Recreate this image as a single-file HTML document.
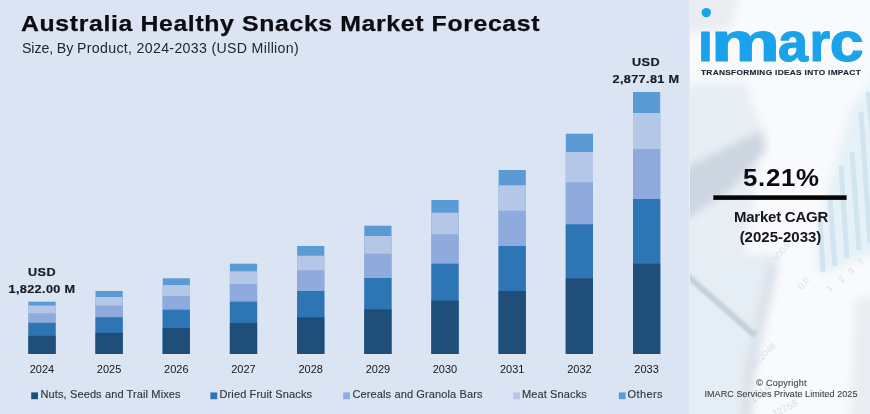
<!DOCTYPE html>
<html lang="en"><head><meta charset="utf-8"><title>Australia Healthy Snacks Market Forecast</title>
<style>
html,body{margin:0;padding:0;}
body{width:870px;height:414px;overflow:hidden;background:#dae3f3;font-family:"Liberation Sans",sans-serif;}
#root{position:relative;width:870px;height:414px;overflow:hidden;background:#dbe4f3;}
.abs{position:absolute;white-space:nowrap;}
#title{left:20.5px;top:10.1px;font-size:22.6px;font-weight:bold;color:#0b0b12;letter-spacing:0.57px;transform:scaleX(1.099);transform-origin:0 0;-webkit-text-stroke:0.25px #0b0b12;line-height:28px;}
#sub{left:22px;top:40.2px;font-size:14px;color:#24262e;line-height:16px;letter-spacing:0.31px;transform:scaleX(1.0125);transform-origin:0 0;}
.yr{position:absolute;top:362px;width:40px;text-align:center;font-size:11px;line-height:14px;color:#15161c;}
.lg{position:absolute;top:387.3px;letter-spacing:0.12px;font-size:11px;line-height:14px;color:#33363d;white-space:nowrap;-webkit-text-stroke:0.15px #33363d;}
.val{position:absolute;text-align:center;font-weight:bold;font-size:11.5px;letter-spacing:0.34px;transform:scaleX(1.1);line-height:17px;color:#171a26;width:90px;-webkit-text-stroke:0.2px #171a26;white-space:nowrap;}
#panel{position:absolute;left:690px;top:0;width:180px;height:414px;background:#f6f8fb;overflow:hidden;}
#cagr{left:743.3px;top:163.5px;font-size:23.5px;font-weight:bold;color:#0c0c10;line-height:28px;letter-spacing:0.6px;transform:scaleX(1.1);transform-origin:0 0;}
.mk{left:690px;width:180px;text-align:center;font-size:15px;font-weight:bold;color:#15151a;line-height:20px;}
.cp{left:690px;width:180px;text-align:center;font-size:9px;color:#3c3f45;line-height:12px;-webkit-text-stroke:0.1px #3c3f45;}
#tag{left:700.5px;top:68px;font-size:8px;font-weight:bold;color:#1d2430;line-height:10px;letter-spacing:0.3px;transform:scaleX(1.036);transform-origin:0 0;-webkit-text-stroke:0.15px #1d2430;}
</style></head><body>
<div id="root">
<svg class="abs" style="left:0;top:0" width="690" height="414" viewBox="0 0 690 414">
<line x1="8" y1="354.5" x2="672" y2="354.5" stroke="#e2e6ee" stroke-width="1"/>
<rect x="28.4" y="301.7" width="27.2" height="52.3" fill="#5b9bd5"/>
<rect x="28.4" y="305.5" width="27.2" height="48.5" fill="#b4c7e7"/>
<rect x="28.4" y="313.3" width="27.2" height="40.7" fill="#8faadc"/>
<rect x="28.4" y="322.8" width="27.2" height="31.2" fill="#2e75b6"/>
<rect x="28.4" y="335.8" width="27.2" height="18.2" fill="#1f4e79"/>
<rect x="95.5" y="291.0" width="27.2" height="63.0" fill="#5b9bd5"/>
<rect x="95.5" y="297.0" width="27.2" height="57.0" fill="#b4c7e7"/>
<rect x="95.5" y="305.5" width="27.2" height="48.5" fill="#8faadc"/>
<rect x="95.5" y="317.2" width="27.2" height="36.8" fill="#2e75b6"/>
<rect x="95.5" y="332.8" width="27.2" height="21.2" fill="#1f4e79"/>
<rect x="162.7" y="278.3" width="27.2" height="75.7" fill="#5b9bd5"/>
<rect x="162.7" y="285.0" width="27.2" height="69.0" fill="#b4c7e7"/>
<rect x="162.7" y="296.0" width="27.2" height="58.0" fill="#8faadc"/>
<rect x="162.7" y="309.7" width="27.2" height="44.3" fill="#2e75b6"/>
<rect x="162.7" y="328.0" width="27.2" height="26.0" fill="#1f4e79"/>
<rect x="229.9" y="263.7" width="27.2" height="90.3" fill="#5b9bd5"/>
<rect x="229.9" y="271.3" width="27.2" height="82.7" fill="#b4c7e7"/>
<rect x="229.9" y="284.0" width="27.2" height="70.0" fill="#8faadc"/>
<rect x="229.9" y="301.7" width="27.2" height="52.3" fill="#2e75b6"/>
<rect x="229.9" y="323.0" width="27.2" height="31.0" fill="#1f4e79"/>
<rect x="297.1" y="246.0" width="27.2" height="108.0" fill="#5b9bd5"/>
<rect x="297.1" y="255.7" width="27.2" height="98.3" fill="#b4c7e7"/>
<rect x="297.1" y="270.3" width="27.2" height="83.7" fill="#8faadc"/>
<rect x="297.1" y="291.0" width="27.2" height="63.0" fill="#2e75b6"/>
<rect x="297.1" y="317.3" width="27.2" height="36.7" fill="#1f4e79"/>
<rect x="364.3" y="225.7" width="27.2" height="128.3" fill="#5b9bd5"/>
<rect x="364.3" y="236.0" width="27.2" height="118.0" fill="#b4c7e7"/>
<rect x="364.3" y="253.7" width="27.2" height="100.3" fill="#8faadc"/>
<rect x="364.3" y="278.0" width="27.2" height="76.0" fill="#2e75b6"/>
<rect x="364.3" y="309.3" width="27.2" height="44.7" fill="#1f4e79"/>
<rect x="431.4" y="200.0" width="27.2" height="154.0" fill="#5b9bd5"/>
<rect x="431.4" y="212.7" width="27.2" height="141.3" fill="#b4c7e7"/>
<rect x="431.4" y="234.3" width="27.2" height="119.7" fill="#8faadc"/>
<rect x="431.4" y="263.7" width="27.2" height="90.3" fill="#2e75b6"/>
<rect x="431.4" y="300.7" width="27.2" height="53.3" fill="#1f4e79"/>
<rect x="498.6" y="170.0" width="27.2" height="184.0" fill="#5b9bd5"/>
<rect x="498.6" y="185.3" width="27.2" height="168.7" fill="#b4c7e7"/>
<rect x="498.6" y="210.7" width="27.2" height="143.3" fill="#8faadc"/>
<rect x="498.6" y="246.0" width="27.2" height="108.0" fill="#2e75b6"/>
<rect x="498.6" y="291.0" width="27.2" height="63.0" fill="#1f4e79"/>
<rect x="565.8" y="133.7" width="27.2" height="220.3" fill="#5b9bd5"/>
<rect x="565.8" y="152.0" width="27.2" height="202.0" fill="#b4c7e7"/>
<rect x="565.8" y="182.3" width="27.2" height="171.7" fill="#8faadc"/>
<rect x="565.8" y="224.3" width="27.2" height="129.7" fill="#2e75b6"/>
<rect x="565.8" y="278.3" width="27.2" height="75.7" fill="#1f4e79"/>
<rect x="633.0" y="92.0" width="27.2" height="262.0" fill="#5b9bd5"/>
<rect x="633.0" y="113.0" width="27.2" height="241.0" fill="#b4c7e7"/>
<rect x="633.0" y="149.0" width="27.2" height="205.0" fill="#8faadc"/>
<rect x="633.0" y="199.0" width="27.2" height="155.0" fill="#2e75b6"/>
<rect x="633.0" y="263.7" width="27.2" height="90.3" fill="#1f4e79"/>
<rect x="31.2" y="392.4" width="6.8" height="6.8" fill="#1f4e79"/><rect x="210.4" y="392.4" width="6.8" height="6.8" fill="#2e75b6"/><rect x="343.2" y="392.4" width="6.8" height="6.8" fill="#8faadc"/><rect x="513.2" y="392.4" width="6.8" height="6.8" fill="#b4c7e7"/><rect x="618.8" y="392.4" width="6.8" height="6.8" fill="#5b9bd5"/>
</svg>
<div id="title" class="abs">Australia Healthy Snacks Market Forecast</div>
<div id="sub" class="abs"><span style="letter-spacing:-0.1px">Size, By </span>Product, 2024-2033 (USD Million)</div>
<div class="yr" style="left:22.0px">2024</div>
<div class="yr" style="left:89.1px">2025</div>
<div class="yr" style="left:156.3px">2026</div>
<div class="yr" style="left:223.5px">2027</div>
<div class="yr" style="left:290.7px">2028</div>
<div class="yr" style="left:357.9px">2029</div>
<div class="yr" style="left:425.0px">2030</div>
<div class="yr" style="left:492.2px">2031</div>
<div class="yr" style="left:559.4px">2032</div>
<div class="yr" style="left:626.6px">2033</div>
<div class="val" style="left:-3px;top:263.5px">USD<br>1,822.00 M</div>
<div class="val" style="left:601px;top:53.5px">USD<br>2,877.81 M</div>

<div class="lg" style="left:40.5px">Nuts, Seeds and Trail Mixes</div>
<div class="lg" style="left:219.5px">Dried Fruit Snacks</div>
<div class="lg" style="left:352.5px">Cereals and Granola Bars</div>
<div class="lg" style="left:522px">Meat Snacks</div>
<div class="lg" style="left:627.5px;letter-spacing:0.4px">Others</div>

<div class="abs" style="left:689px;top:0;width:1px;height:414px;background:#e8eef7"></div>
<div id="panel">
<svg style="position:absolute;left:0;top:0" width="180" height="414" viewBox="690 0 180 414">
<defs>
<filter id="b6" x="-30%" y="-30%" width="160%" height="160%"><feGaussianBlur stdDeviation="4"/></filter>
<filter id="b2" x="-20%" y="-20%" width="140%" height="140%"><feGaussianBlur stdDeviation="1.2"/></filter>
<filter id="b1" x="-20%" y="-20%" width="140%" height="140%"><feGaussianBlur stdDeviation="0.7"/></filter>
</defs>
<rect x="690" y="0" width="180" height="414" fill="#f8fafc"/>
<g filter="url(#b6)">
<polygon points="680,-10 740,-10 730,28 680,34" fill="#e9edf1"/>
<polygon points="680,85 745,82 762,132 745,255 680,262" fill="#e7eef4"/>
<polygon points="680,170 762,130 766,150 730,190 680,224" fill="#ccd6e0"/>
<polygon points="680,256 777,254 747,372 742,424 680,424" fill="#e5eef4"/>
<polyline points="774,262 750,368 746,424" fill="none" stroke="#d8e0e8" stroke-width="10"/>
<polygon points="850,110 880,70 880,250 822,275 815,262 826,200" fill="#e6f1f7"/>
<polygon points="856,300 880,295 880,424 850,424" fill="#e9edf1"/>
</g>
<g filter="url(#b2)">
<line x1="686" y1="273.5" x2="753" y2="333" stroke="#c6d0da" stroke-width="7.5" stroke-linecap="round"/>
<line x1="688" y1="271" x2="754" y2="329.5" stroke="#e3e9ef" stroke-width="2"/>
</g>
<g filter="url(#b1)" stroke="#d0e5f0" stroke-width="5">
<line x1="819.5" y1="213" x2="823" y2="272"/>
<line x1="830" y1="200" x2="835" y2="266"/>
<line x1="841" y1="166" x2="847" y2="258"/>
<line x1="852" y1="152" x2="859" y2="250"/>
<line x1="861" y1="112" x2="870" y2="243"/>
<line x1="868" y1="92" x2="880" y2="200"/>
</g>
<g font-family="Liberation Sans, sans-serif" font-size="9" fill="#d8dee5" filter="url(#b1)">
<text transform="translate(777,262) rotate(-52)">500.0</text>
<text transform="translate(802,290) rotate(-52)">0.0</text>
<text transform="translate(830,292) rotate(-52)">1</text>
<text transform="translate(842,283) rotate(-52)">2</text>
<text transform="translate(852,275) rotate(-52)">3</text>
<text transform="translate(862,266) rotate(-52)">7</text>
<text transform="translate(748,375) rotate(-45)">16982048</text>
<text transform="translate(746,410) rotate(-40)" font-size="11">0.1514</text>
<text transform="translate(774,418) rotate(-28)" font-size="10">32768</text>
</g>
</svg>
</div>
<svg class="abs" style="left:690px;top:0" width="180" height="80" viewBox="690 0 180 80" role="img" aria-label="imarc"><title>imarc</title>
<defs><clipPath id="lc"><rect x="690" y="30" width="180" height="40"/></clipPath></defs>
<g clip-path="url(#lc)"><text y="61.1" font-family="Liberation Sans, sans-serif" font-weight="bold" font-size="56" fill="#1aa3ea" stroke="#1aa3ea" stroke-width="1.2" stroke-linejoin="round"><tspan x="698" textLength="15" lengthAdjust="spacingAndGlyphs">i</tspan><tspan x="710.9" textLength="68.9" lengthAdjust="spacingAndGlyphs">m</tspan><tspan x="778.1" textLength="30" lengthAdjust="spacingAndGlyphs">a</tspan><tspan x="809.6" textLength="20.6" lengthAdjust="spacingAndGlyphs">r</tspan><tspan x="829.7" textLength="33.9" lengthAdjust="spacingAndGlyphs">c</tspan></text></g>
<circle cx="706.3" cy="12.6" r="4.7" fill="#1aa3ea"/>
</svg>

<div id="tag" class="abs">TRANSFORMING IDEAS INTO IMPACT</div>
<div id="cagr" class="abs">5.21%</div>
<svg class="abs" style="left:713px;top:195px" width="135" height="6" viewBox="0 0 135 6"><rect x="0.3" y="0.3" width="133.3" height="4.6" fill="#060606"/></svg>
<div class="abs mk" style="top:207px;letter-spacing:-0.25px;left:691px">Market CAGR</div>
<div class="abs mk" style="top:226.7px;left:690.5px">(2025-2033)</div>
<div class="abs cp" style="top:376.6px;letter-spacing:0.25px;left:691.5px">© Copyright</div>
<div class="abs cp" style="top:388.3px;letter-spacing:0.07px;left:691px">IMARC Services Private Limited 2025</div>
</div>
</body></html>
